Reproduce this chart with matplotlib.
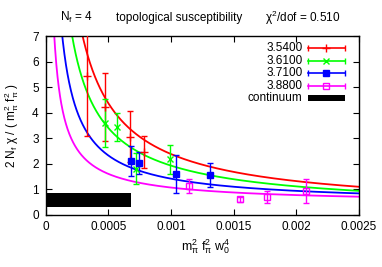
import numpy as np
import matplotlib
matplotlib.use('Agg')
import matplotlib.pyplot as plt

plt.rcParams['font.family'] = ['Liberation Sans', 'DejaVu Sans']
plt.rcParams['mathtext.fontset'] = 'custom'
plt.rcParams['mathtext.rm'] = 'Liberation Sans'
plt.rcParams['mathtext.it'] = 'Liberation Sans'
plt.rcParams['mathtext.bf'] = 'Liberation Sans'

# ---------------- data ----------------
betas = ['3.5400', '3.6100', '3.7100', '3.8800']
colors = ['#ff0000', '#00ff00', '#0000ff', '#ff00ff']

x_354 = [0.000326, 0.000472, 0.000672, 0.000785]
y_354 = [5.45, 4.23, 3.06, 2.46]
e_354 = [2.36, 1.33, 1.00, 0.63]

x_361 = [0.000472, 0.000570, 0.000724, 0.000989]
y_361 = [3.59, 3.46, 1.80, 2.17]
e_361 = [0.95, 0.55, 0.60, 0.56]

x_371 = [0.000684, 0.000743, 0.001040, 0.001310]
y_371 = [2.12, 2.02, 1.59, 1.56]
e_371 = [0.59, 0.44, 0.74, 0.48]

x_388 = [0.001143, 0.001547, 0.001764, 0.002078]
y_388 = [1.13, 0.60, 0.69, 0.94]
e_388 = [0.28, 0.10, 0.25, 0.47]

# fit curves: y = c + ref * (x / 0.0025)^(-p)
fit_c = [0.1, 0.1, 0.4, 0.4]
fit_ref = [0.99, 0.83, 0.43, 0.30]
fit_p = [0.909, 0.858, 0.93, 0.86]

cont_val = 0.585
cont_err = 0.275
cont_xmax = 0.00068

xticks = [0, 0.0005, 0.001, 0.0015, 0.002, 0.0025]
xticklabels = ['0', '0.0005', '0.001', '0.0015', '0.002', '0.0025']
yticks = [0, 1, 2, 3, 4, 5, 6, 7]

# ---------------- plot ----------------
fig = plt.figure(figsize=(3.82, 2.67), dpi=100)
ax = fig.add_axes([0.1196, 0.1966, 0.8202, 0.6667])

FS = 8.5
series = [(x_354, y_354, e_354), (x_361, y_361, e_361),
          (x_371, y_371, e_371), (x_388, y_388, e_388)]
mstyles = [dict(marker='+', ms=5.5, mew=1.0),
           dict(marker='x', ms=4.5, mew=1.0),
           dict(marker='s', ms=4.5, mew=1.0),
           dict(marker='s', ms=5, mew=1.0, mfc='none')]

xs = np.linspace(1.5e-5, 0.0025, 1000)
for i in range(4):
    c, r, p = fit_c[i], fit_ref[i], fit_p[i]
    ys = c + r * (xs / 0.0025) ** (-p)
    ax.plot(xs, ys, color=colors[i], lw=1.3, zorder=2)

for i, (x, y, e) in enumerate(series):
    ax.errorbar(x, y, yerr=e, fmt='none', ecolor=colors[i], elinewidth=1.0,
                capsize=2.3, capthick=1.0, zorder=3)
    ax.plot(x, y, ls='none', color=colors[i], zorder=4, **mstyles[i])

ax.fill_between([0, cont_xmax], cont_val - cont_err, cont_val + cont_err,
                color='black', lw=0, zorder=3)

ax.set_xlim(0, 0.0025)
ax.set_ylim(0, 7)
ax.set_xticks(xticks)
ax.set_xticklabels(xticklabels)
ax.set_yticks(yticks)
ax.tick_params(direction='in', top=True, right=True, length=4, width=0.8,
               labelsize=FS, pad=5)
for s in ax.spines.values():
    s.set_linewidth(1.0)

# legend (gnuplot style, drawn manually)
tr = ax.transAxes
rows = [0.934, 0.864, 0.795, 0.724]
lx0, lx1, tx = 0.837, 0.955, 0.820
for i in range(4):
    yy = rows[i]
    ax.plot([lx0, lx1], [yy, yy], color=colors[i], lw=1.2, transform=tr, clip_on=False, zorder=5)
    ax.plot([lx0, lx1], [yy, yy], ls='none', marker='|', ms=5, mew=1.0,
            color=colors[i], transform=tr, clip_on=False, zorder=5)
    ax.plot([(lx0 + lx1) / 2], [yy], ls='none', color=colors[i], transform=tr,
            clip_on=False, zorder=5, **mstyles[i])
    ax.text(tx, yy, betas[i], transform=tr, ha='right', va='center', fontsize=FS)
ax.fill_between([lx0, lx1], 0.637, 0.671, color='black', lw=0, transform=tr, zorder=5)
ax.text(tx, 0.654, 'continuum', transform=tr, ha='right', va='center', fontsize=FS)

# titles
ty = 0.933
fig.text(0.199, ty, r'N$_\mathregular{f}$ = 4', ha='center', va='center', fontsize=FS)
fig.text(0.469, ty, 'topological susceptibility', ha='center', va='center', fontsize=FS)
fig.text(0.792, ty, r'$\mathregular{\chi^2}$/dof = 0.510', ha='center', va='center', fontsize=FS)

fig.text(0.539, 0.078,
         r'm$_\mathregular{\pi}^\mathregular{2}$ f$_\mathregular{\pi}^\mathregular{2}$ w$_\mathregular{0}^\mathregular{4}$',
         ha='center', va='center', fontsize=FS + 0.5)
fig.text(0.030, 0.53,
         r'2 N$_\mathregular{f}$ $\mathregular{\chi}$ / ( m$_\mathregular{\pi}^\mathregular{2}$ f$_\mathregular{\pi}^\mathregular{2}$ )',
         ha='center', va='center', rotation=90, fontsize=FS)

fig.savefig('out.png', dpi=100)
